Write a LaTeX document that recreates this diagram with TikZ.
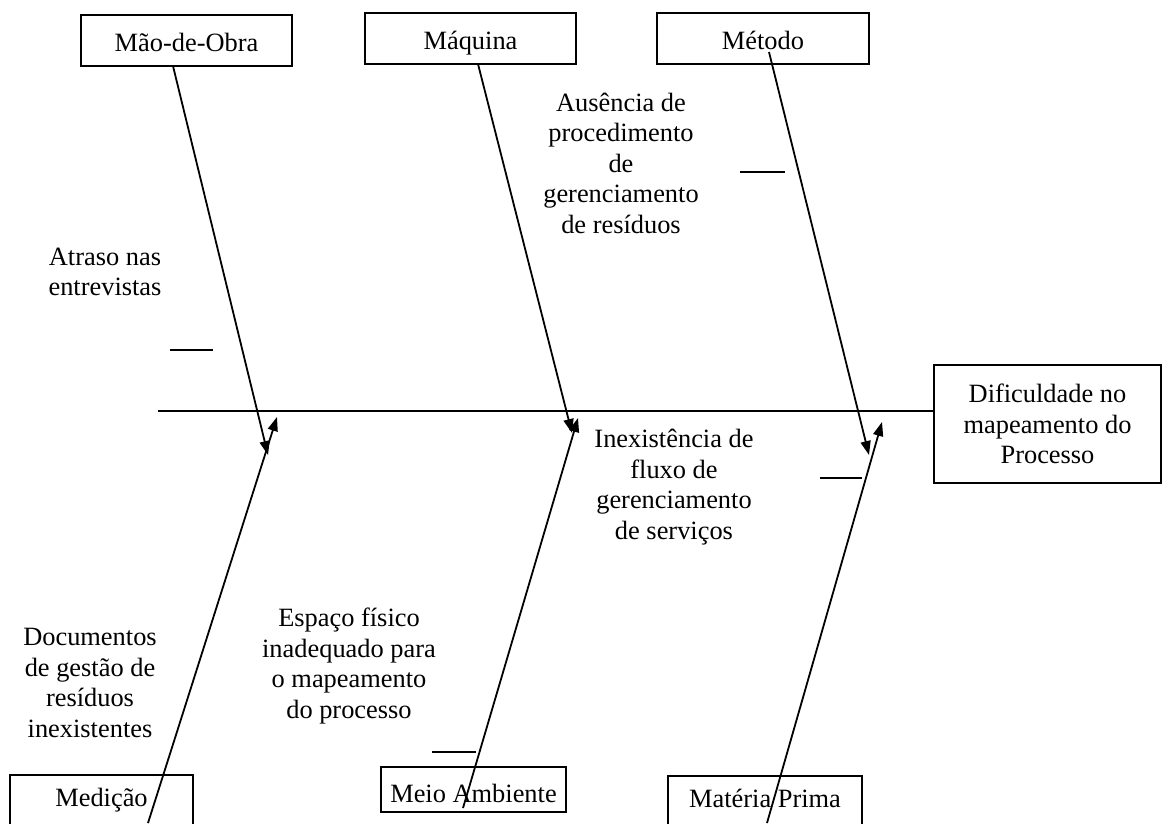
\documentclass[tikz,border=0pt]{standalone}
\usepackage{fontspec}
\setmainfont{Liberation Serif}
\usetikzlibrary{arrows.meta,calc}
\begin{document}
\begin{tikzpicture}[x=1pt,y=-1pt,
  every node/.style={font=\fontsize{26.4pt}{30.5pt}\selectfont},
  catbox/.style={draw,line width=2pt,inner sep=0pt,align=center},
  topbox/.style={catbox,text height=23pt,text depth=2pt},
  botbox/.style={catbox,text height=18pt,text depth=6pt},
  lbl/.style={inner sep=0pt,align=center},
  bone/.style={line width=1.8pt,-{Triangle[length=14pt,width=10pt]}},
  tick/.style={line width=1.8pt}]
\useasboundingbox (0,0) rectangle (1162,823);
\clip (0,0) rectangle (1162,823);
\fill[white] (0,0) rectangle (1162,823);
% category boxes
\node[topbox,minimum width=211pt,minimum height=51pt] (mo) at (186.5,40.5) {Mão-de-Obra};
\node[topbox,minimum width=211pt,minimum height=51pt] (maq) at (470.5,38.5) {Máquina};
\node[topbox,minimum width=212pt,minimum height=51pt] (met) at (763,38.5) {Método};
\node[botbox,minimum width=183pt,minimum height=51pt] (med) at (101.5,800) {Medição};
\node[botbox,text height=25pt,text depth=0pt,minimum width=185pt,minimum height=45pt] (mam) at (473.5,789.5) {Meio Ambiente};
\node[botbox,minimum width=194pt,minimum height=51pt] (mp) at (765,801.5) {Matéria Prima};
\node[catbox,minimum width=227pt,minimum height=118pt] (eff) at (1047.5,424) {Dificuldade no\\mapeamento do\\Processo};
% spine
\coordinate (sp) at (158,411);
\draw[line width=1.8pt] (sp) -- (sp -| eff.west);
% bone end points
\coordinate (mo-s) at (173,66);
\coordinate (mo-t) at (268,455);
\coordinate (med-s) at (148,823);
\coordinate (med-t) at (277,417);
\coordinate (maq-s) at (478,64);
\coordinate (maq-t) at (572,433);
\coordinate (mam-s) at (463,808);
\coordinate (mam-t) at (578,418);
\coordinate (met-s) at (769,52);
\coordinate (met-t) at (869,455);
\coordinate (mp-s) at (767,823);
\coordinate (mp-t) at (882,422);
\draw[bone] (mo-s) -- (mo-t);
\draw[bone] (med-s) -- (med-t);
\draw[bone] (maq-s) -- (maq-t);
\draw[bone] (mam-s) -- (mam-t);
\draw[bone] (met-s) -- (met-t);
\draw[bone] (mp-s) -- (mp-t);
% cause labels
\node[lbl] (c1) at (105,272) {Atraso nas\\entrevistas};
\node[lbl] (c2) at (621,163) {Ausência de\\procedimento\\de\\gerenciamento\\de resíduos};
\node[lbl] (c3) at (674,487) {Inexistência de\\fluxo de\\gerenciamento\\de serviços};
\node[lbl] (c4) at (349,666) {Espaço físico\\inadequado para\\o mapeamento\\do processo};
\node[lbl] (c5) at (90,683) {Documentos\\de gestão de\\resíduos\\inexistentes};
% short ticks
\coordinate (t1a) at (170,350); \coordinate (t1b) at (213,350);
\coordinate (t2a) at (740,172); \coordinate (t2b) at (785,172);
\coordinate (t3a) at (820,478); \coordinate (t3b) at (862,478);
\coordinate (t4a) at (432,752); \coordinate (t4b) at (476,752);
\draw[tick] (t1a) -- (t1b);
\draw[tick] (t2a) -- (t2b);
\draw[tick] (t3a) -- (t3b);
\draw[tick] (t4a) -- (t4b);
\end{tikzpicture}
\end{document}
